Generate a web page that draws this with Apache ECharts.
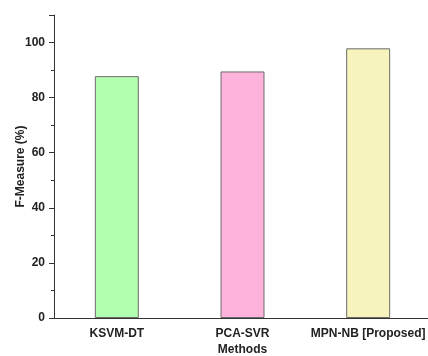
<!DOCTYPE html>
<html>
<head>
<meta charset="utf-8">
<script src="https://cdn.jsdelivr.net/npm/echarts@6/dist/echarts.min.js"></script>
<style>html,body{margin:0;padding:0;background:#fff;}#c{width:428px;height:356px;}</style>
</head>
<body>
<div id="c"></div>
<script>
var categories = ['KSVM-DT', 'PCA-SVR', 'MPN-NB [Proposed]'];
var fMeasure = [87.8, 89.5, 97.9];
var barColors = ['#b3ffb0', '#ffb3dc', '#f7f3bd'];
var yTicks = [0, 20, 40, 60, 80, 100];

var chart = echarts.init(document.getElementById('c'));
var font = '"Liberation Sans", Arial, sans-serif';
chart.setOption({
  animation: false,
  grid: {left: 54, right: -3, top: 15, bottom: 38, outerBoundsMode: 'none', containLabel: false},
  xAxis: [{
    type: 'category',
    data: categories,
    name: 'Methods',
    nameLocation: 'middle',
    nameGap: 26,
    nameMoveOverlap: false,
    nameTextStyle: {fontFamily: font, fontWeight: 'bold', fontSize: 12, color: '#222'},
    axisLine: {lineStyle: {color: '#333', width: 1}},
    axisTick: {alignWithLabel: true, length: 5, interval: 0, lineStyle: {color: '#333'}},
    axisLabel: {interval: 0, fontFamily: font, fontWeight: 'bold', fontSize: 12, color: '#222', margin: 10}
  }, {
    type: 'category',
    data: categories,
    position: 'bottom',
    axisLine: {show: false},
    axisTick: {length: 3, interval: 0, lineStyle: {color: '#333'}},
    axisLabel: {show: false}
  }],
  yAxis: {
    type: 'value',
    min: 0, max: 110, interval: 20,
    name: 'F-Measure (%)',
    nameLocation: 'middle',
    nameGap: 27,
    nameMoveOverlap: false,
    nameTextStyle: {fontFamily: font, fontWeight: 'bold', fontSize: 12, color: '#222'},
    axisLine: {show: true, lineStyle: {color: '#333', width: 1}},
    axisTick: {show: true, length: 5, lineStyle: {color: '#333'}},
    minorTick: {show: true, splitNumber: 2, length: 3, lineStyle: {color: '#333'}},
    splitLine: {show: false},
    axisLabel: {
      fontFamily: font, fontWeight: 'bold', fontSize: 12, color: '#222', margin: 9,
      formatter: function (v) { return yTicks.indexOf(v) >= 0 ? String(v) : ''; }
    }
  },
  series: [{
    type: 'bar',
    data: fMeasure.map(function (v, i) {
      return {value: v, itemStyle: {color: barColors[i]}};
    }),
    barWidth: '35%',
    itemStyle: {borderColor: '#6b6b6b', borderWidth: 1}
  }]
});
</script>
</body>
</html>
